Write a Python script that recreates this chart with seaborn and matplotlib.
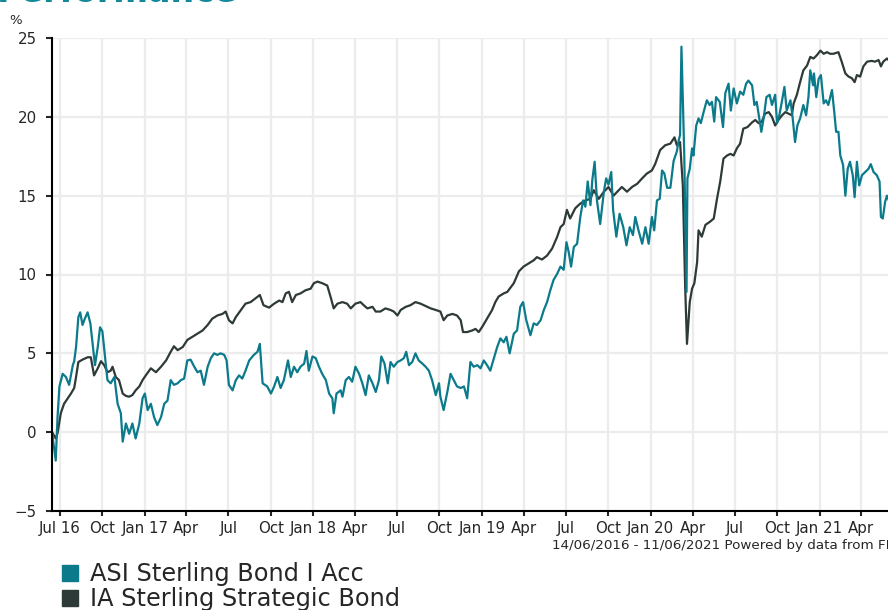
import matplotlib
matplotlib.use("Agg")
import matplotlib.pyplot as plt
from matplotlib.lines import Line2D
import seaborn as sns
import pandas as pd

start = pd.Timestamp("2016-06-14")

# days since 14/06/2016 and cumulative % performance
asi_day = [0, 8, 12, 16, 23, 30, 37, 45, 48, 52, 57, 61, 66, 71, 77, 83, 88, 93, 99, 104,
           109, 114, 120, 127, 135, 142, 149, 153, 160, 167, 174, 181, 189, 196, 201, 207, 214, 221, 228, 236,
           243, 250, 257, 264, 272, 279, 286, 293, 300, 308, 315, 322, 329, 337, 344, 351, 358, 365, 373, 378,
           383, 391, 398, 405, 412, 419, 427, 437, 445, 450, 456, 466, 474, 481, 488, 495, 502, 511, 517, 524,
           531, 538, 546, 551, 556, 564, 571, 578, 585, 593, 600, 607, 610, 616, 625, 629, 636, 643, 650, 657,
           665, 672, 679, 686, 694, 701, 708, 713, 720, 727, 733, 740, 748, 755, 762, 767, 773, 780, 787, 794,
           802, 809, 816, 823, 831, 838, 841, 848, 856, 863, 870, 877, 885, 892, 899, 906, 913, 921, 928, 935,
           942, 949, 957, 964, 971, 978, 984, 991, 1000, 1007, 1014, 1020, 1027, 1036, 1043, 1050, 1058, 1065, 1072, 1079,
           1086, 1094, 1101, 1108, 1114, 1119, 1124, 1130, 1137, 1144, 1150, 1155, 1160, 1166, 1170, 1175, 1180, 1187, 1195, 1200,
           1205, 1211, 1215, 1222, 1229, 1237, 1244, 1251, 1258, 1263, 1270, 1278, 1285, 1292, 1299, 1304, 1310, 1316, 1321, 1326,
           1332, 1339, 1346, 1353, 1357, 1360, 1363, 1366, 1369, 1374, 1376, 1381, 1386, 1389, 1395, 1400, 1405, 1411, 1418, 1424,
           1429, 1434, 1438, 1446, 1453, 1458, 1465, 1470, 1476, 1483, 1490, 1497, 1503, 1508, 1516, 1521, 1526, 1530, 1536, 1541,
           1547, 1554, 1559, 1566, 1570, 1575, 1581, 1586, 1591, 1599, 1604, 1609, 1614, 1620, 1627, 1633, 1638, 1642, 1648, 1650,
           1655, 1660, 1665, 1671, 1676, 1681, 1689, 1694, 1698, 1703, 1707, 1713, 1718, 1723, 1728, 1734, 1738, 1743, 1748, 1754,
           1761, 1768, 1773, 1779, 1786, 1792, 1795, 1799, 1804, 1808, 1815, 1823]
asi_val = [0.0, -1.8, 1.0, 2.9, 3.7, 3.5, 3.0, 4.25, 4.5, 5.4, 7.3, 7.6, 6.8, 7.2, 7.6, 6.9, 5.6, 4.25, 5.4, 6.65,
           6.4, 5.0, 3.3, 3.1, 3.5, 1.8, 1.2, -0.6, 0.55, -0.1, 0.55, -0.4, 0.55, 2.15, 2.45, 1.4, 1.8, 0.95, 0.45, 0.95,
           1.8, 2.0, 3.3, 3.0, 3.1, 3.3, 3.4, 4.55, 4.6, 4.15, 3.8, 3.9, 3.0, 4.15, 4.7, 5.0, 4.9, 5.0, 4.9, 4.55,
           3.0, 2.65, 3.3, 3.6, 3.4, 3.9, 4.55, 4.9, 5.1, 5.6, 3.1, 2.9, 2.45, 2.9, 3.5, 2.8, 3.3, 4.55, 3.5, 4.15,
           3.8, 4.15, 4.35, 5.15, 3.9, 4.8, 4.7, 4.15, 3.7, 3.3, 2.45, 2.15, 1.2, 2.45, 2.65, 2.25, 3.3, 3.5, 3.2, 4.15,
           3.7, 3.1, 2.35, 3.6, 3.1, 2.55, 3.3, 4.8, 4.35, 3.1, 4.45, 4.15, 4.45, 4.55, 4.7, 5.1, 4.25, 4.45, 5.0, 4.55,
           4.35, 4.15, 3.9, 3.3, 2.35, 3.1, 2.25, 1.4, 2.55, 3.7, 3.3, 2.9, 2.8, 2.9, 2.15, 4.45, 4.15, 4.25, 4.05, 4.55,
           4.25, 3.9, 4.7, 5.4, 5.95, 5.7, 6.05, 5.0, 6.25, 6.45, 7.95, 8.25, 7.1, 6.15, 6.9, 6.8, 7.1, 7.75, 8.25, 9.0,
           9.65, 10.05, 10.5, 10.3, 12.05, 11.4, 10.5, 11.75, 11.95, 13.65, 14.7, 14.3, 15.9, 14.4, 16.0, 17.15, 14.7, 13.2, 15.25, 16.1,
           15.7, 16.5, 14.1, 12.4, 13.85, 13.0, 11.85, 13.0, 12.5, 13.65, 12.8, 11.95, 13.0, 11.95, 13.65, 12.8, 14.7, 14.8, 16.6, 16.4,
           15.5, 15.5, 17.2, 17.8, 18.5, 18.85, 24.45, 21.15, 17.75, 8.9, 16.1, 16.7, 18.0, 17.55, 19.45, 19.9, 19.6, 20.3, 21.05, 20.75,
           20.95, 19.7, 21.25, 20.95, 19.35, 21.5, 22.1, 20.4, 21.8, 20.85, 21.6, 21.4, 22.1, 22.3, 22.0, 20.75, 20.95, 20.2, 19.05, 19.9,
           21.25, 21.4, 20.75, 21.4, 19.6, 20.1, 21.05, 21.9, 20.4, 21.05, 19.9, 18.4, 19.45, 19.9, 20.75, 20.1, 21.25, 22.95, 22.0, 22.75,
           21.25, 22.4, 22.65, 20.85, 21.05, 20.75, 21.7, 20.3, 19.05, 19.05, 17.55, 16.95, 15.0, 16.7, 17.15, 16.3, 14.9, 17.15, 15.65, 16.3,
           16.5, 16.7, 17.0, 16.5, 16.3, 15.9, 13.65, 13.55, 14.6, 15.0, 14.5, 14.8]

ia_day = [0, 8, 12, 19, 26, 34, 41, 48, 52, 57, 66, 77, 84, 91, 99, 106, 113, 120, 127, 131,
          138, 145, 153, 160, 167, 174, 181, 189, 196, 203, 214, 225, 236, 247, 257, 264, 272, 283, 293, 304,
          315, 326, 337, 347, 358, 369, 376, 383, 391, 398, 409, 419, 430, 441, 450, 458, 470, 481, 492, 499,
          506, 513, 520, 528, 538, 549, 560, 567, 575, 585, 596, 603, 610, 618, 629, 639, 647, 657, 668, 675,
          683, 694, 701, 711, 722, 733, 740, 748, 755, 766, 776, 787, 798, 809, 820, 831, 841, 848, 856, 867,
          877, 885, 890, 899, 910, 917, 924, 932, 942, 953, 960, 967, 978, 986, 1000, 1011, 1021, 1032, 1043, 1050,
          1061, 1072, 1083, 1094, 1101, 1108, 1115, 1122, 1133, 1144, 1155, 1166, 1173, 1184, 1195, 1205, 1216, 1224, 1234, 1245,
          1256, 1267, 1278, 1288, 1299, 1306, 1317, 1328, 1339, 1348, 1353, 1360, 1366, 1371, 1375, 1381, 1386, 1391, 1397, 1400,
          1407, 1415, 1425, 1433, 1440, 1447, 1454, 1462, 1469, 1476, 1483, 1490, 1497, 1506, 1516, 1523, 1530, 1537, 1544, 1552,
          1559, 1566, 1573, 1581, 1588, 1595, 1602, 1606, 1613, 1620, 1627, 1635, 1642, 1649, 1656, 1664, 1671, 1678, 1685, 1692,
          1703, 1710, 1718, 1725, 1732, 1738, 1743, 1750, 1757, 1765, 1775, 1782, 1790, 1795, 1800, 1808, 1815, 1823]
ia_val = [0.0, -0.4, -0.05, 1.2, 1.8, 2.15, 2.45, 2.8, 3.5, 4.45, 4.6, 4.75, 4.75, 3.6, 4.05, 4.5, 4.25, 3.8, 3.9, 4.15,
          3.5, 3.3, 2.45, 2.3, 2.25, 2.35, 2.65, 2.9, 3.3, 3.6, 4.05, 3.8, 4.15, 4.55, 5.1, 5.45, 5.2, 5.4, 5.85, 6.05,
          6.25, 6.45, 6.8, 7.2, 7.4, 7.5, 7.65, 7.1, 6.9, 7.3, 7.75, 8.15, 8.25, 8.5, 8.7, 8.05, 7.9, 8.15, 8.35, 8.25,
          8.8, 8.9, 8.25, 8.7, 8.8, 9.0, 9.1, 9.45, 9.55, 9.45, 9.3, 8.6, 7.85, 8.15, 8.25, 8.15, 7.85, 8.15, 8.25, 8.05,
          7.85, 7.95, 7.65, 7.65, 7.85, 7.75, 7.65, 7.4, 7.75, 7.95, 8.05, 8.25, 8.15, 8.0, 7.85, 7.75, 7.65, 7.1, 7.4, 7.5,
          7.4, 7.1, 6.35, 6.35, 6.45, 6.55, 6.35, 6.7, 7.2, 7.75, 8.25, 8.6, 8.8, 8.9, 9.45, 10.2, 10.5, 10.7, 10.9, 11.1,
          10.95, 11.2, 11.65, 12.4, 13.0, 13.2, 14.1, 13.55, 14.2, 14.5, 14.7, 14.8, 15.35, 14.8, 15.25, 15.55, 15.0, 15.25, 15.55, 15.25,
          15.55, 15.75, 16.1, 16.4, 16.6, 17.0, 17.9, 18.2, 18.3, 18.7, 18.2, 18.4, 15.65, 9.3, 5.6, 8.25, 9.1, 9.45, 10.8, 12.8,
          12.4, 13.15, 13.35, 13.55, 14.8, 15.9, 17.35, 17.55, 17.65, 17.55, 18.0, 18.3, 19.25, 19.35, 19.65, 19.8, 19.6, 19.7, 20.2, 20.3,
          20.0, 19.45, 19.8, 20.1, 20.3, 20.2, 20.1, 20.85, 21.4, 22.2, 22.95, 23.25, 23.8, 23.7, 23.9, 24.2, 24.0, 24.1, 24.0, 24.0,
          24.1, 23.5, 22.75, 22.55, 22.45, 22.2, 22.65, 22.55, 23.2, 23.5, 23.55, 23.5, 23.6, 23.2, 23.5, 23.7, 23.5, 23.6]

series_names = ["ASI Sterling Bond I Acc", "IA Sterling Strategic Bond"]
series_colors = ["#0b7a8a", "#2e3a37"]

asi = pd.DataFrame({"date": start + pd.to_timedelta(asi_day, unit="D"), "pct": asi_val,
                    "fund": series_names[0]})
ia = pd.DataFrame({"date": start + pd.to_timedelta(ia_day, unit="D"), "pct": ia_val,
                   "fund": series_names[1]})
data = pd.concat([asi, ia], ignore_index=True)

sns.set_style("white")
plt.rcParams["font.family"] = ["DejaVu Sans"]

fig = plt.figure(figsize=(8.88, 6.10), dpi=100)
ax = fig.add_axes([0.0586, 0.1623, 0.948, 0.7754])

palette = dict(zip(series_names, series_colors))
# the sector line is drawn first so the fund sits on top
sns.lineplot(data=data, x="date", y="pct", hue="fund", palette=palette,
             hue_order=series_names[::-1], linewidth=1.6, legend=False, ax=ax)

ax.set_xlim(start, pd.Timestamp("2021-06-11"))
ax.set_ylim(-5, 25)
ax.set_yticks(range(-5, 26, 5))
ax.set_xlabel("")
ax.set_ylabel("")

tick_dates = pd.date_range("2016-07-01", "2021-04-01", freq="QS-JAN")
ax.set_xticks(tick_dates)
labels = []
for i, d in enumerate(tick_dates):
    if i == 0 or d.month == 1:
        labels.append(d.strftime("%b %y"))
    else:
        labels.append(d.strftime("%b"))
ax.set_xticklabels(labels)

ax.grid(True, color="#ececec", linewidth=1.6)
ax.set_axisbelow(True)
for side in ["top", "right"]:
    ax.spines[side].set_visible(False)
for side in ["left", "bottom"]:
    ax.spines[side].set_color("black")
    ax.spines[side].set_linewidth(1.5)
ax.tick_params(axis="y", length=4, width=1.5, pad=7, labelsize=10.8, left=True)
ax.tick_params(axis="x", length=3.5, width=1.5, pad=4, labelsize=10.8, bottom=True)

fig.text(16 / 888, 1 - 20 / 610, "%", fontsize=9.5, ha="center", va="center")
# title sits mostly above the cropped top edge, only its lower part shows
fig.text(-3 / 888, 1 - 1.5 / 610, "Performance", fontsize=24, fontweight="bold",
         color="#12899a", ha="left", va="baseline")
fig.text(1.0065, 1 - 545 / 610, "14/06/2016 - 11/06/2021 Powered by data from FE",
         fontsize=9.7, ha="right", va="center")

handles = [Line2D([], [], linestyle="none", marker="s", markersize=12,
                  markerfacecolor=c, markeredgecolor=c) for c in series_colors]
fig.legend(handles, series_names, loc="upper left", bbox_to_anchor=(60 / 888, 1 - 562 / 610),
           frameon=False, fontsize=17.3, handlelength=0.8, handletextpad=0.45,
           labelspacing=0.05, borderpad=0, borderaxespad=0)

fig.savefig("out.png", dpi=100)
